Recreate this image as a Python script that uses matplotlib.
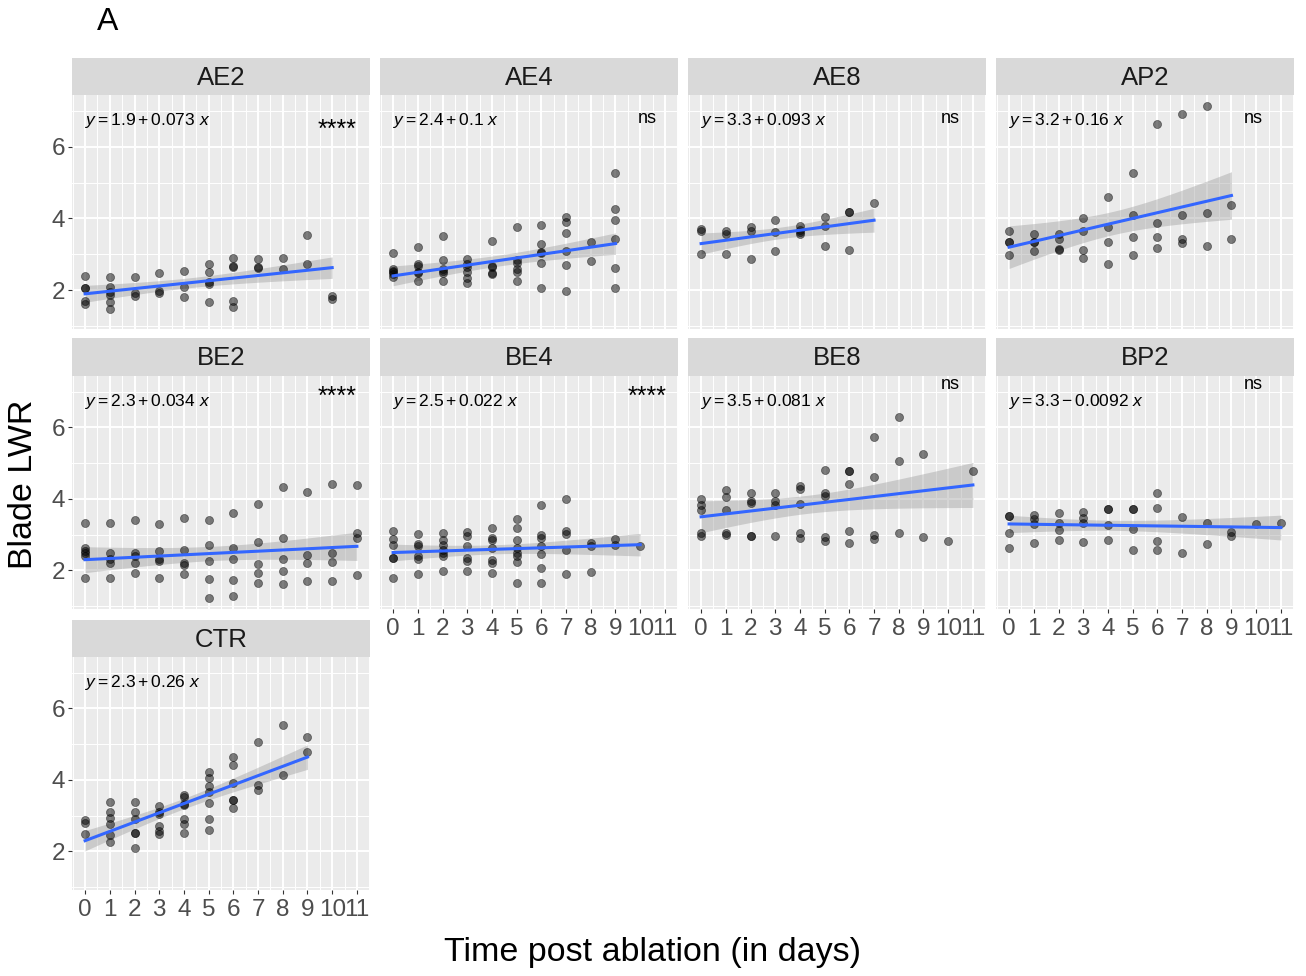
import numpy as np
import matplotlib
matplotlib.use("Agg")
import matplotlib.pyplot as plt
from matplotlib.ticker import FixedLocator

plt.rcParams['font.family'] = ['Liberation Sans', 'DejaVu Sans']
plt.rcParams['mathtext.fontset'] = 'custom'
plt.rcParams['mathtext.rm'] = 'Liberation Sans'
plt.rcParams['mathtext.it'] = 'Liberation Sans:italic'

# nombres de los paneles
panels = ['AE2', 'AE4', 'AE8', 'AP2', 'BE2', 'BE4', 'BE8', 'BP2', 'CTR']

# valores de LWR agrupados por dia (indice = dia)
ae2 = [[2.41, 2.07, 2.07, 1.71, 1.62], [2.36, 2.10, 1.95, 1.87, 1.68, 1.48],
       [2.38, 1.92, 1.84], [2.48, 1.97, 1.92], [2.55, 2.08, 1.80],
       [2.73, 2.50, 2.24, 2.17, 1.68], [2.90, 2.68, 2.64, 1.71, 1.52],
       [2.86, 2.66, 2.61], [2.91, 2.60], [3.53, 2.73], [1.85, 1.75]]
ae4 = [[3.04, 2.59, 2.54, 2.50, 2.45, 2.38], [3.20, 2.73, 2.68, 2.52, 2.49, 2.27],
       [3.50, 2.83, 2.59, 2.54, 2.49, 2.27], [2.87, 2.73, 2.66, 2.50, 2.33, 2.19],
       [3.37, 2.68, 2.65, 2.49, 2.45], [3.75, 2.83, 2.77, 2.59, 2.52, 2.27],
       [3.83, 3.29, 3.06, 3.04, 2.77, 2.06], [4.05, 3.91, 3.59, 3.08, 2.71, 1.98],
       [3.34, 2.82], [5.26, 4.27, 3.96, 3.43, 2.61, 2.06]]
ae8 = [[3.71, 3.66, 3.00], [3.66, 3.57, 3.01], [3.75, 3.66, 2.87],
       [3.96, 3.63, 3.08], [3.78, 3.68, 3.63, 3.57], [4.05, 3.80, 3.22],
       [4.19, 4.19, 3.13], [4.42]]
ap2 = [[3.65, 3.35, 3.35, 2.97], [3.58, 3.35, 3.34, 3.09], [3.57, 3.42, 3.14, 3.12],
       [4.00, 3.66, 3.13, 2.91], [4.59, 3.75, 3.35, 2.74], [5.27, 4.09, 3.48, 2.98],
       [6.63, 3.87, 3.49, 3.17], [6.90, 4.10, 3.44, 3.31], [7.14, 4.14, 3.22],
       [4.38, 3.43]]
be2 = [[3.34, 2.64, 2.55, 2.48, 2.41, 1.79], [3.33, 2.50, 2.32, 2.22, 1.79],
       [3.42, 2.50, 2.41, 2.21, 1.92], [3.31, 2.55, 2.32, 2.25, 1.80],
       [3.46, 2.58, 2.22, 2.15, 1.91], [3.42, 2.72, 2.27, 1.76, 1.22],
       [3.60, 2.62, 2.32, 1.73, 1.28], [3.86, 2.79, 2.19, 1.93, 1.66],
       [4.33, 2.90, 2.32, 1.98, 1.63], [4.19, 2.43, 2.20, 1.71],
       [4.42, 2.50, 2.24, 1.69], [4.38, 3.05, 2.90, 1.87]]
be4 = [[3.09, 2.88, 2.71, 2.36, 2.36, 1.78], [3.02, 2.74, 2.69, 2.39, 2.32, 1.90],
       [3.05, 2.86, 2.72, 2.58, 2.48, 2.41, 1.98], [3.08, 2.97, 2.69, 2.34, 2.25, 1.99],
       [3.18, 2.90, 2.86, 2.62, 2.30, 2.21, 1.93],
       [3.45, 3.18, 2.86, 2.62, 2.50, 2.41, 2.24, 1.65],
       [3.83, 3.00, 2.92, 2.67, 2.46, 2.08, 1.65], [4.01, 3.09, 3.02, 2.57, 1.90],
       [2.76, 2.69, 1.96], [2.88, 2.72], [2.69]]
be8 = [[4.00, 3.83, 3.70, 3.06, 2.97], [4.26, 4.06, 3.69, 3.04, 2.99],
       [4.17, 3.93, 3.88, 2.97, 2.97], [4.16, 3.93, 3.84, 2.95],
       [4.37, 4.28, 3.87, 3.04, 2.92], [4.82, 4.16, 4.09, 2.94, 2.83],
       [4.78, 4.78, 4.43, 3.11, 2.76], [5.74, 4.60, 3.00, 2.88],
       [6.30, 5.06, 3.04], [5.25, 2.94], [2.83], [4.77]]
bp2 = [[3.53, 3.53, 3.04, 2.62], [3.56, 3.45, 3.31, 2.78], [3.62, 3.32, 3.14, 2.86],
       [3.64, 3.47, 3.34, 2.80], [3.73, 3.73, 3.27, 2.86], [3.73, 3.73, 3.16, 2.58],
       [4.16, 3.74, 2.83, 2.57], [3.50, 2.50], [3.34, 2.75], [3.08, 2.97],
       [3.31], [3.32]]
ctr = [[2.88, 2.80, 2.49], [3.38, 3.11, 2.93, 2.76, 2.45, 2.26],
       [3.38, 3.10, 2.91, 2.52, 2.52, 2.10], [3.28, 3.11, 3.06, 2.71, 2.57, 2.48],
       [3.59, 3.53, 3.34, 3.31, 2.91, 2.76, 2.52],
       [4.22, 4.06, 3.83, 3.66, 3.36, 2.91, 2.61],
       [4.64, 4.41, 3.92, 3.45, 3.45, 3.22], [5.06, 3.87, 3.73], [5.54, 4.14],
       [5.21, 4.78]]
values = [ae2, ae4, ae8, ap2, be2, be4, be8, bp2, ctr]

# ecuaciones de regresion (tal como aparecen en las etiquetas)
intercepts = [1.9, 2.4, 3.3, 3.2, 2.3, 2.5, 3.5, 3.3, 2.3]
slopes = [0.073, 0.1, 0.093, 0.16, 0.034, 0.022, 0.081, -0.0092, 0.26]

# significancia
signif = ['****', 'ns', 'ns', 'ns', '****', '****', 'ns', 'ns', '']
signif_x = [10.2, 10.3, 10.07, 9.9, 10.2, 10.3, 10.1, 9.9, 0]
signif_y = [6.60, 6.79, 6.79, 6.79, 6.98, 6.98, 7.21, 7.21, 0]

days = list(range(12))

W, H = 1306, 976
fig = plt.figure(figsize=(W / 100, H / 100), dpi=100)

col_left = [72, 380, 688, 996]
col_w = 298
rows_plot = [(95, 329), (376, 609), (657, 890)]
rows_strip = [(58, 95), (338, 376), (620, 657)]


def fig_rect(left, top, width, bottom):
    return [left / W, 1 - bottom / H, width / W, (bottom - top) / H]


def ci_halfwidth(xs, ys, a, b, grid):
    n = len(xs)
    resid = ys - (a + b * xs)
    s = np.sqrt(np.sum(resid ** 2) / (n - 2))
    xbar = xs.mean()
    sxx = np.sum((xs - xbar) ** 2)
    t = 1.96 + 2.4 / (n - 2)  # aproximacion de t(0.975, n-2)
    return t * s * np.sqrt(1 / n + (grid - xbar) ** 2 / sxx)


for i, name in enumerate(panels):
    r, c = divmod(i, 4)
    top, bottom = rows_plot[r]
    ax = fig.add_axes(fig_rect(col_left[c], top, col_w, bottom))
    stop, sbot = rows_strip[r]
    sax = fig.add_axes(fig_rect(col_left[c], stop, col_w, sbot))
    sax.set_facecolor('#D9D9D9')
    sax.set_xticks([])
    sax.set_yticks([])
    for sp in sax.spines.values():
        sp.set_visible(False)
    sax.text(0.5, 0.47, name, ha='center', va='center', fontsize=18.5,
             color='#1A1A1A', transform=sax.transAxes)

    ax.set_facecolor('#EBEBEB')
    for sp in ax.spines.values():
        sp.set_visible(False)
    ax.set_xlim(-0.53, 11.53)
    ax.set_ylim(0.92, 7.44)
    ax.xaxis.set_major_locator(FixedLocator(days))
    ax.xaxis.set_minor_locator(FixedLocator(np.arange(-0.5, 12, 1.0)))
    ax.yaxis.set_major_locator(FixedLocator([2, 4, 6]))
    ax.yaxis.set_minor_locator(FixedLocator([1, 3, 5, 7]))
    ax.grid(which='major', color='white', linewidth=1.4)
    ax.grid(which='minor', color='white', linewidth=0.7)
    ax.set_axisbelow(True)

    ax.tick_params(which='minor', length=0)
    ax.tick_params(which='major', direction='out', length=3.2, width=0.8,
                   color='#333333', labelcolor='#4D4D4D', labelsize=17.5, pad=2)
    ax.tick_params(axis='x', pad=3.5)
    show_x = (r == 2) or (r == 1 and c > 0)
    show_y = (c == 0)
    if not show_x:
        ax.tick_params(axis='x', which='major', length=0, labelbottom=False)
    if not show_y:
        ax.tick_params(axis='y', which='major', length=0, labelleft=False)

    xs = np.array([d for d, vals in enumerate(values[i]) for v in vals], dtype=float)
    ys = np.array([v for vals in values[i] for v in vals])
    a, b = intercepts[i], slopes[i]
    grid = np.linspace(xs.min(), xs.max(), 80)
    fit = a + b * grid
    hw = ci_halfwidth(xs, ys, a, b, grid)
    ax.fill_between(grid, fit - hw, fit + hw, color='#999999', alpha=0.4,
                    linewidth=0, zorder=2)
    ax.scatter(xs, ys, s=34, color='black', alpha=0.5, edgecolors='black',
               linewidths=0.5, zorder=3)
    ax.plot(grid, fit, color='#3366FF', linewidth=2.2, zorder=4)

    sign = '+' if b >= 0 else '-'
    label = r'$y = %g %s %g\ x$' % (a, sign, abs(b))
    ax.text(-0.02, 6.72, label, ha='left', va='center', fontsize=12.5, color='black')
    if signif[i]:
        if signif[i] == 'ns':
            ax.text(signif_x[i], signif_y[i], signif[i], ha='center', va='center',
                    fontsize=13, color='black')
        else:
            ax.text(signif_x[i], signif_y[i] - 0.12, signif[i], ha='center',
                    va='center', fontsize=18, color='black')

fig.text(97 / W, 1 - 22 / H, 'A', ha='left', va='center', fontsize=23)
fig.text(24 / W, 1 - 484 / H, 'Blade LWR', rotation=90, ha='center',
         va='center', fontsize=24.5)
fig.text(652 / W, 1 - 953 / H, 'Time post ablation (in days)', ha='center',
         va='center', fontsize=24.5)

fig.savefig('out.png', dpi=100)
